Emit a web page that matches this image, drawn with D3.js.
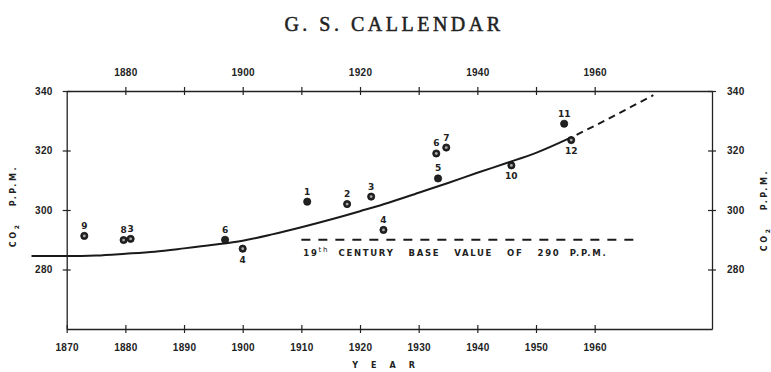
<!DOCTYPE html>
<html>
<head>
<meta charset="utf-8">
<script src="https://cdn.jsdelivr.net/npm/d3@7"></script>
<style>
  body { margin: 0; background: #fff; }
  text { fill: #222; }
</style>
</head>
<body>
<script>
// numbered observation averages
const pointYears = [1873, 1879.7, 1880.9, 1897, 1900, 1911, 1917.8, 1921.9, 1924, 1933.3, 1933, 1934.7, 1945.8, 1954.8, 1956]
const pointPPM = [291.3, 289.9, 290.3, 290, 287, 302.8, 302, 304.5, 293.3, 310.6, 319, 321, 315, 329, 323.5]
const pointLabels = ['9', '8', '3', '6', '4', '1', '2', '3', '4', '5', '6', '7', '10', '11', '12']
const pointSolid = [false, false, false, true, false, true, false, false, false, true, false, false, false, true, false]
const labelBelow = [false, false, false, false, true, false, false, false, false, false, false, false, true, false, true]

// fitted curve, solid part and dashed extrapolation
const trendYears = [1864, 1870, 1875, 1880, 1885, 1890, 1895, 1900, 1905, 1910, 1915, 1920, 1925, 1930, 1935, 1940, 1945, 1950, 1956]
const trendPPM = [284.5, 284.5, 284.7, 285.3, 286, 287.1, 288.3, 289.7, 291.8, 294.2, 296.8, 299.6, 302.5, 305.8, 309.1, 312.5, 315.8, 319.2, 324.4]
const extYears = [1956, 1960, 1965, 1970]
const extPPM = [324.4, 328.3, 333.4, 338.6]

const baseValue = 290
const baseYears = [1910, 1967.5]

const bottomTicks = [1870, 1880, 1890, 1900, 1910, 1920, 1930, 1940, 1950, 1960]
const topTicks = [1880, 1890, 1900, 1910, 1920, 1930, 1940, 1950, 1960]
const topLabels = [1880, 1900, 1920, 1940, 1960]
const ppmTicks = [280, 300, 320, 340]

const W = 771, H = 372
const mLeft = 66.7, mRight = 712, mTop = 91, mBottom = 329

const x = d3.scaleLinear().domain([1870, 1980]).range([mLeft, mRight])
const y = d3.scaleLinear().domain([260, 340]).range([mBottom, mTop])

const svg = d3.select('body')
  .append('svg')
  .attr('width', W)
  .attr('height', H)
  .style('font-family', 'DejaVu Sans')

svg.append('text')
  .attr('x', 394)
  .attr('y', 31)
  .attr('text-anchor', 'middle')
  .style('font-family', 'Liberation Serif')
  .style('font-size', '20px')
  .style('letter-spacing', '3.5px')
  .attr('stroke', '#222')
  .attr('stroke-width', 0.5)
  .text('G. S. CALLENDAR')

function crossTicks(g, horizontal) {
  g.select('.domain').attr('stroke', '#222').attr('stroke-width', 1.3)
  g.selectAll('.tick line')
    .attr('stroke', '#222')
    .attr('stroke-width', 1.2)
    .attr(horizontal ? 'y1' : 'x1', -4)
    .attr(horizontal ? 'y2' : 'x2', 4)
  g.selectAll('.tick text')
    .style('font-size', '10px')
    .style('font-weight', 'bold')
    .style('letter-spacing', '0.3px')
    .attr('fill', '#222')
}

const xBottom = svg.append('g')
  .attr('transform', `translate(0, ${mBottom})`)
  .call(d3.axisBottom(x).tickValues(bottomTicks).tickFormat(d3.format('d')).tickSizeOuter(0).tickPadding(9))
crossTicks(xBottom, true)

const xTop = svg.append('g')
  .attr('transform', `translate(0, ${mTop})`)
  .call(d3.axisTop(x).tickValues(topTicks).tickFormat(d => topLabels.includes(d) ? d : '').tickSizeOuter(0).tickPadding(9))
crossTicks(xTop, true)

const yLeft = svg.append('g')
  .attr('transform', `translate(${mLeft}, 0)`)
  .call(d3.axisLeft(y).tickValues(ppmTicks).tickSizeOuter(0).tickPadding(8))
crossTicks(yLeft, false)

const yRight = svg.append('g')
  .attr('transform', `translate(${mRight}, 0)`)
  .call(d3.axisRight(y).tickValues(ppmTicks).tickSizeOuter(0).tickPadding(9))
crossTicks(yRight, false)

// axis titles
function ppmLabel(cx, cy) {
  const t = svg.append('text')
    .attr('transform', `translate(${cx}, ${cy}) rotate(-90)`)
    .attr('text-anchor', 'middle')
    .style('font-size', '8px')
    .style('font-weight', 'bold')
    .style('letter-spacing', '2.6px')
    .attr('xml:space', 'preserve')
  t.append('tspan').text('CO')
  t.append('tspan').attr('dy', 3).style('font-size', '6px').text('2')
  t.append('tspan').attr('dy', -3).text('   P.P.M.')
}
ppmLabel(16, 206)
ppmLabel(767, 210)

svg.append('text')
  .attr('x', 390)
  .attr('y', 368)
  .attr('text-anchor', 'middle')
  .attr('xml:space', 'preserve')
  .style('font-size', '8px')
  .style('font-weight', 'bold')
  .style('letter-spacing', '13px')
  .text('YEAR')

// curve
const line = d3.line()
  .x(d => x(d[0]))
  .y(d => y(d[1]))
  .curve(d3.curveMonotoneX)

svg.append('path')
  .datum(trendYears.map((yr, i) => [yr, trendPPM[i]]))
  .attr('d', line)
  .attr('fill', 'none')
  .attr('stroke', '#1a1a1a')
  .attr('stroke-width', 2)

svg.append('path')
  .datum(extYears.map((yr, i) => [yr, extPPM[i]]))
  .attr('d', line)
  .attr('fill', 'none')
  .attr('stroke', '#1a1a1a')
  .attr('stroke-width', 2)
  .attr('stroke-dasharray', '7 5')
  .attr('stroke-dashoffset', -6)

// 19th century base line
svg.append('line')
  .attr('x1', x(baseYears[0]))
  .attr('x2', x(baseYears[1]))
  .attr('y1', y(baseValue))
  .attr('y2', y(baseValue))
  .attr('stroke', '#1a1a1a')
  .attr('stroke-width', 2)
  .attr('stroke-dasharray', '9 8')

const bt = svg.append('text')
  .attr('x', x(baseYears[0]) + 2)
  .attr('y', y(baseValue) + 16)
  .attr('xml:space', 'preserve')
  .style('font-size', '8.5px')
  .style('font-weight', 'bold')
  .style('letter-spacing', '1.7px')
bt.append('tspan').text('19')
bt.append('tspan').attr('dy', -4).style('font-size', '7px').style('font-weight', 'normal').text('th')
bt.append('tspan').attr('dy', 4).text('  CENTURY   BASE   VALUE   OF   290  P.P.M.')

// points
const pts = svg.selectAll('g.pt')
  .data(pointYears.map((yr, i) => ({ yr, v: pointPPM[i], label: pointLabels[i], solid: pointSolid[i], below: labelBelow[i] })))
  .enter()
  .append('g')
  .attr('class', 'pt')
  .attr('transform', d => `translate(${x(d.yr)}, ${y(d.v)})`)

pts.append('circle')
  .attr('r', 3.6)
  .attr('fill', '#222')
  .attr('stroke', '#111')
  .attr('stroke-width', 0.8)

pts.filter(d => !d.solid)
  .append('circle')
  .attr('r', 1.4)
  .attr('fill', '#aaa')

pts.append('text')
  .attr('y', d => d.below ? 14 : -7)
  .attr('text-anchor', 'middle')
  .style('font-size', '9px')
  .style('font-weight', 'bold')
  .text(d => d.label)
</script>
</body>
</html>
